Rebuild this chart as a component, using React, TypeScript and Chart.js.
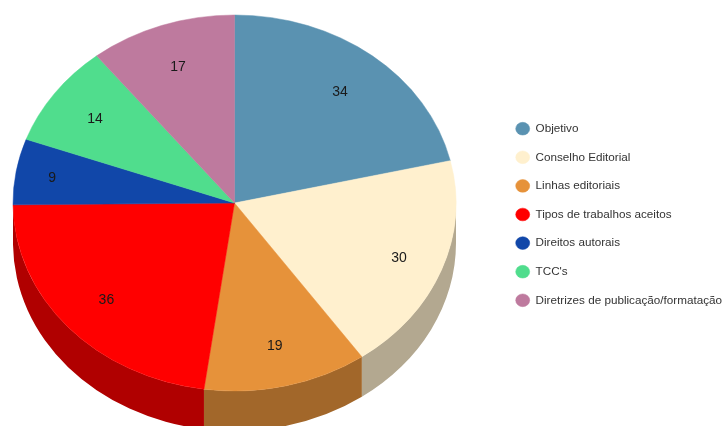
import React, { useEffect, useRef } from "react";
import { Chart, registerables } from "chart.js";

Chart.register(...registerables);

const categories = ["Objetivo", "Conselho Editorial", "Linhas editoriais", "Tipos de trabalhos aceitos", "Direitos autorais", "TCC's", "Diretrizes de publicação/formatação"];
const values = [34, 30, 19, 36, 9, 14, 17];
const topColors = ["#5A92B1", "#FFF0CE", "#E6923A", "#FF0000", "#1147A9", "#50DD8D", "#BE7A9E"];
const sideColors = ["#3F667C", "#B3A890", "#A2672A", "#B00000", "#0C3276", "#399B63", "#845570"];
const labelRadii = [0.765, 0.795, 0.775, 0.77, 0.835, 0.775, 0.775];

const CX = 234.5, CY = 203, RX = 221.5, RY = 188, DEPTH = 40, LABEL_DY = 1.5;
const FONT = "Liberation Sans, Arial, sans-serif";

const pie3d = {
  id: "pie3d",
  beforeDatasetDraw(chart: any, args: any) {
    const ctx = chart.ctx;
    const arcs = args.meta.data;
    // walls: only the front half of the ellipse (canvas angles 0..PI) is visible
    arcs.forEach((arc: any, i: number) => {
      const from = Math.max(arc.startAngle, 0);
      const to = Math.min(arc.endAngle, Math.PI);
      if (to <= from) return;
      ctx.save();
      ctx.fillStyle = sideColors[i];
      ctx.beginPath();
      ctx.ellipse(CX, CY, RX, RY, 0, from, to);
      ctx.ellipse(CX, CY + DEPTH, RX, RY, 0, to, from, true);
      ctx.closePath();
      ctx.fill();
      ctx.restore();
    });
    const a0 = arcs[0];
    ctx.save();
    ctx.translate(CX, CY);
    ctx.scale(RX / a0.outerRadius, RY / a0.outerRadius);
    ctx.translate(-a0.x, -a0.y);
  },
  afterDatasetDraw(chart: any, args: any) {
    const ctx = chart.ctx;
    ctx.restore();
    ctx.save();
    ctx.fillStyle = "#1a1a1a";
    ctx.font = `14px ${FONT}`;
    ctx.textAlign = "center";
    ctx.textBaseline = "middle";
    args.meta.data.forEach((arc: any, i: number) => {
      const mid = (arc.startAngle + arc.endAngle) / 2;
      const f = labelRadii[i];
      ctx.fillText(String(values[i]), CX + Math.cos(mid) * RX * f, CY + Math.sin(mid) * RY * f + LABEL_DY);
    });
    ctx.restore();
  },
};

export default function App() {
  const ref = useRef<HTMLCanvasElement>(null);
  useEffect(() => {
    const chart = new Chart(ref.current!, {
      type: "pie",
      data: {
        labels: categories,
        datasets: [{ data: values, backgroundColor: topColors, borderColor: topColors, borderWidth: 0.5 }],
      },
      options: {
        responsive: false,
        animation: false,
        layout: { padding: { right: -8, top: 3 } },
        plugins: {
          tooltip: { enabled: false },
          legend: {
            position: "right",
            labels: {
              usePointStyle: true,
              pointStyle: "circle",
              boxHeight: 9,
              pointStyleWidth: 14,
              padding: 16.9,
              color: "#333",
              font: { family: FONT, size: 11.7 },
            },
          },
        },
      },
      plugins: [pie3d],
    } as any);
    return () => chart.destroy();
  }, []);
  return (
    <div style={{ position: "absolute", left: 0, top: 0, width: 724, height: 426, background: "#fff" }}>
      <canvas ref={ref} width={724} height={426} style={{ display: "block" }} />
    </div>
  );
}
